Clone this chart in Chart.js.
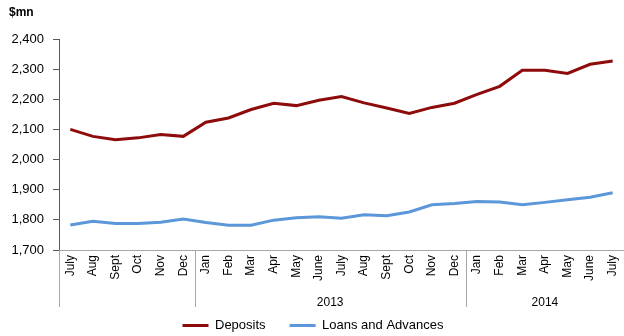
<!DOCTYPE html>
<html>
<head>
<meta charset="utf-8">
<script src="https://cdn.jsdelivr.net/npm/chart.js@4.4.1/dist/chart.umd.min.js"></script>
<style>
  html, body { margin: 0; padding: 0; background: #fff; }
  #wrap { width: 624px; height: 336px; }
</style>
</head>
<body>
<div id="wrap"><canvas id="deposits-chart" width="624" height="336"></canvas></div>
<script>
// monthly figures, July 2012 - July 2014
var months = ['July', 'Aug', 'Sept', 'Oct', 'Nov', 'Dec',
              'Jan', 'Feb', 'Mar', 'Apr', 'May', 'June', 'July', 'Aug', 'Sept', 'Oct', 'Nov', 'Dec',
              'Jan', 'Feb', 'Mar', 'Apr', 'May', 'June', 'July'];
var deposits = [2100, 2077, 2066, 2072, 2083, 2077,
                2124, 2138, 2166, 2187, 2179, 2197, 2209, 2188, 2171, 2153, 2173, 2187,
                2216, 2243, 2296, 2296, 2286, 2316, 2327];
var loans = [1783, 1795, 1788, 1788, 1792, 1803,
             1791, 1782, 1782, 1799, 1807, 1810, 1805, 1817, 1814, 1826, 1850, 1854,
             1861, 1859, 1850, 1858, 1867, 1875, 1890];

// year groups under the month labels (first index of each group)
var years = ['', '2013', '2014'];
var yearStarts = [0, 6, 18];

var yTicks = [1700, 1800, 1900, 2000, 2100, 2200, 2300, 2400];

var FONT = 'Liberation Sans, Arial, sans-serif';

var yearGroups = {
    id: 'yearGroups',
    afterDraw: function(chart) {
        var ctx = chart.ctx;
        var x = chart.scales.x;
        var area = chart.chartArea;
        var step = x.getPixelForTick(1) - x.getPixelForTick(0);
        var bottom = area.bottom + 57;

        ctx.save();
        ctx.strokeStyle = '#a6a6a6';
        ctx.lineWidth = 1;
        for (var i = 0; i < yearStarts.length; i++) {
            var start = yearStarts[i];
            var end = i + 1 < yearStarts.length ? yearStarts[i + 1] : months.length;
            var left = Math.round(x.getPixelForTick(start) - step / 2) + 0.5;
            ctx.beginPath();
            ctx.moveTo(left, area.bottom);
            ctx.lineTo(left, bottom);
            ctx.stroke();

            if (years[i]) {
                var mid = (x.getPixelForTick(start) + x.getPixelForTick(end - 1)) / 2;
                ctx.fillStyle = '#000';
                ctx.font = '12px ' + FONT;
                ctx.textAlign = 'center';
                ctx.textBaseline = 'middle';
                ctx.fillText(years[i], mid, area.bottom + 53);
            }
        }

        // unit label
        ctx.fillStyle = '#000';
        ctx.font = 'bold 12px ' + FONT;
        ctx.textAlign = 'left';
        ctx.textBaseline = 'middle';
        ctx.fillText('$mn', 9, 13);
        ctx.restore();
    }
};

var ctx1 = document.querySelector('#deposits-chart');
var myLineChart = new Chart(ctx1, {
    type: 'line',
    data: {
        labels: months,
        datasets: [{
            label: 'Deposits',
            data: deposits,
            borderColor: '#8e0b0b',
            backgroundColor: '#8e0b0b',
            borderWidth: 3,
            pointRadius: 0,
            tension: 0
        }, {
            label: 'Loans and Advances',
            data: loans,
            borderColor: '#5b97d9',
            backgroundColor: '#5b97d9',
            borderWidth: 3,
            pointRadius: 0,
            tension: 0
        }]
    },
    options: {
        responsive: false,
        animation: false,
        devicePixelRatio: 1,
        layout: {
            padding: { top: 39, right: -2, left: 0, bottom: -6 }
        },
        scales: {
            x: {
                offset: true,
                grid: { display: false, drawTicks: false },
                border: { display: true, color: '#a6a6a6' },
                ticks: {
                    autoSkip: false,
                    minRotation: 90,
                    maxRotation: 90,
                    padding: 5,
                    color: '#000',
                    font: { family: FONT, size: 12 }
                },
                afterFit: function(scale) {
                    scale.height = 45;
                    scale.paddingLeft = 0;
                    scale.paddingRight = 0;
                }
            },
            y: {
                min: 1700,
                max: 2400,
                afterBuildTicks: function(scale) {
                    scale.ticks = yTicks.map(function(v) { return { value: v }; });
                },
                grid: { drawOnChartArea: false, drawTicks: true, tickLength: 6, color: '#595959' },
                border: { display: true, color: '#595959' },
                ticks: {
                    padding: 9,
                    color: '#000',
                    font: { family: FONT, size: 13 },
                    callback: function(v) { return v.toLocaleString('en-US'); }
                },
                afterFit: function(scale) {
                    scale.width = 59;
                }
            }
        },
        plugins: {
            legend: {
                position: 'bottom',
                labels: {
                    boxWidth: 26,
                    boxHeight: 3,
                    padding: 24,
                    color: '#000',
                    font: { family: FONT, size: 13 },
                    generateLabels: function(chart) {
                        var items = Chart.defaults.plugins.legend.labels.generateLabels(chart);
                        items.forEach(function(item) { item.lineWidth = 0; });
                        return items;
                    }
                }
            },
            tooltip: { enabled: false }
        }
    },
    plugins: [yearGroups]
});
</script>
</body>
</html>
